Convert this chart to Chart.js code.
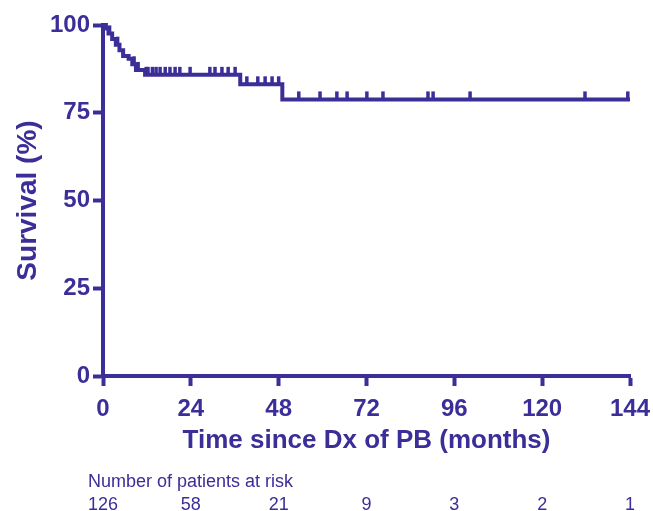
<!DOCTYPE html>
<html>
<head>
<meta charset="utf-8">
<script src="https://cdn.jsdelivr.net/npm/chart.js@4"></script>
<style>
  html, body { margin: 0; padding: 0; background: #fff; }
  #wrap { width: 653px; height: 511px; }
</style>
</head>
<body>
<div id="wrap"><canvas id="km"></canvas></div>
<script>
// Kaplan-Meier steps: event time (months) and survival (%) after it
var eventTimes = [0, 0.8, 1.5, 2.5, 3.5, 4.5, 5.5, 7, 8, 9, 11.5, 37.5, 49, 144];
var survival   = [100, 99, 97.6, 96, 94.4, 92.8, 91.2, 90.4, 88.8, 87.2, 85.8, 83.1, 78.8, 78.8];

// censored observations (months)
var censorTimes = [1.8, 4.0, 8.5, 9.6, 11.8, 12.3, 13.5, 14.5, 15.6, 17.0, 18.3, 19.7, 21.0, 23.8,
                   29.2, 30.6, 32.5, 34.2, 36.1,
                   39.3, 42.3, 44.3, 46.2, 48.0,
                   53.5, 59.3, 63.9, 66.7, 72.1, 76.5, 88.8, 90.2, 100.3, 131.7, 143.4];

var xTicks = [0, 24, 48, 72, 96, 120, 144];
var atRisk = [126, 58, 21, 9, 3, 2, 1];

var ink = '#3b2e98';

function survivalAt(t) {
    var s = survival[0];
    for (var i = 0; i < eventTimes.length; i++) {
        if (eventTimes[i] <= t) s = survival[i];
    }
    return s;
}

var curve = eventTimes.map(function(t, i) { return { x: t, y: survival[i] }; });

var censorPlugin = {
    id: 'censor',
    afterDatasetsDraw: function(chart) {
        var ctx = chart.ctx, xs = chart.scales.x, ys = chart.scales.y;
        ctx.save();
        ctx.strokeStyle = ink;
        ctx.lineWidth = 3.5;
        censorTimes.forEach(function(t) {
            var px = xs.getPixelForValue(t);
            var py = ys.getPixelForValue(survivalAt(t));
            ctx.beginPath();
            ctx.moveTo(px, py);
            ctx.lineTo(px, py - 8);
            ctx.stroke();
        });
        ctx.restore();
    }
};

var riskPlugin = {
    id: 'risktable',
    afterDraw: function(chart) {
        var ctx = chart.ctx, xs = chart.scales.x;
        var base = chart.chartArea.bottom;
        ctx.save();
        ctx.fillStyle = ink;
        ctx.font = '18px "Liberation Sans", Arial, sans-serif';
        ctx.textBaseline = 'middle';
        ctx.textAlign = 'left';
        ctx.fillText('Number of patients at risk', 88, base + 106);
        ctx.textAlign = 'center';
        xTicks.forEach(function(t, i) {
            ctx.fillText(String(atRisk[i]), xs.getPixelForValue(t), base + 129);
        });
        ctx.restore();
    }
};

new Chart(document.getElementById('km'), {
    type: 'line',
    data: {
        datasets: [{
            data: curve,
            stepped: true,
            borderColor: ink,
            borderWidth: 4,
            pointRadius: 0,
            fill: false,
            clip: false
        }]
    },
    plugins: [censorPlugin, riskPlugin],
    options: {
        responsive: true,
        maintainAspectRatio: false,
        animation: false,
        layout: { padding: { top: 25, right: 23, bottom: 55, left: 0 } },
        plugins: { legend: { display: false }, tooltip: { enabled: false } },
        scales: {
            x: {
                type: 'linear',
                min: 0, max: 144,
                afterBuildTicks: function(scale) {
                    scale.ticks = xTicks.map(function(v) { return { value: v }; });
                },
                afterFit: function(scale) {
                    scale.height = 80;
                    scale.paddingLeft = 0;
                    scale.paddingRight = 0;
                },
                border: { display: true, color: ink, width: 4 },
                grid: { drawOnChartArea: false, color: ink, tickLength: 10, tickWidth: 4 },
                ticks: {
                    color: ink, padding: 9, maxRotation: 0, autoSkip: false,
                    font: { family: '"Liberation Sans", Arial, sans-serif', size: 24, weight: 'bold' }
                },
                title: {
                    display: true,
                    text: 'Time since Dx of PB (months)',
                    color: ink,
                    padding: { top: 0, bottom: 0 },
                    font: { family: '"Liberation Sans", Arial, sans-serif', size: 26, weight: 'bold' }
                }
            },
            y: {
                min: 0, max: 100,
                ticks: {
                    stepSize: 25, color: ink, padding: 3,
                    font: { family: '"Liberation Sans", Arial, sans-serif', size: 24, weight: 'bold' }
                },
                afterFit: function(scale) {
                    scale.width = 103;
                    scale.paddingTop = 0;
                    scale.paddingBottom = 0;
                },
                border: { display: true, color: ink, width: 4 },
                grid: { drawOnChartArea: false, color: ink, tickLength: 10, tickWidth: 4 },
                title: {
                    display: true,
                    text: 'Survival (%)',
                    color: ink,
                    padding: { top: 11, bottom: 0 },
                    font: { family: '"Liberation Sans", Arial, sans-serif', size: 28, weight: 'bold' }
                }
            }
        }
    }
});
</script>
</body>
</html>
